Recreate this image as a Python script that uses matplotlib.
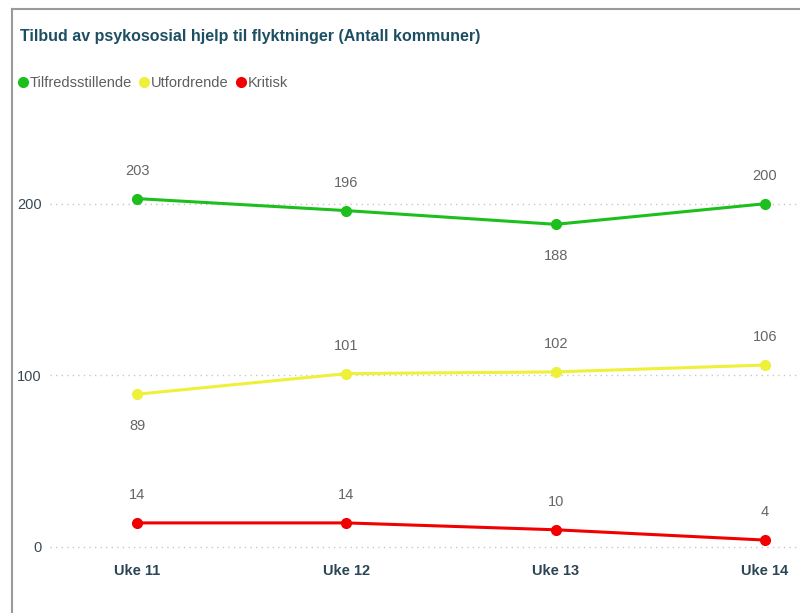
import matplotlib.pyplot as plt
from matplotlib.lines import Line2D

uker = ["Uke 11", "Uke 12", "Uke 13", "Uke 14"]
serier = ["Tilfredsstillende", "Utfordrende", "Kritisk"]
tilfreds = [203, 196, 188, 200]
utfordrende = [89, 101, 102, 106]
kritisk = [14, 14, 10, 4]
farger = ["#1DBF1D", "#EEF03A", "#F20000"]
# hvor datalabelen står: 1 = over punktet, -1 = under
plassering = [[1, 1, -1, 1], [-1, 1, 1, 1], [1, 1, 1, 1]]

plt.rcParams['font.family'] = ['Liberation Sans', 'DejaVu Sans']

fig = plt.figure(figsize=(8, 6.13), dpi=100)
ax = fig.add_axes([0.0625, 0.0865, 0.9375, 0.7015])

x = list(range(len(uker)))
for verdier, farge, plass in zip([tilfreds, utfordrende, kritisk], farger, plassering):
    ax.plot(x, verdier, color=farge, lw=2.2, marker='o', ms=7, solid_capstyle='round')
    for xi, v, p in zip(x, verdier, plass):
        off = 20 if p > 0 else -23
        ax.annotate(str(v), (xi, v), xytext=(0, off), textcoords='offset points',
                    ha='center', va='center', fontsize=10.5, color='#666666')

ax.set_xlim(-0.416, 3.167)
ax.set_ylim(-7.6, 243)
ax.set_yticks([0, 100, 200])
ax.set_xticks(x)
ax.set_xticklabels(uker, fontsize=10.5, color='#2B4556', fontweight='bold')
ax.tick_params(axis='y', length=0, pad=6, labelsize=10.5, labelcolor='#3A4A55')
ax.tick_params(axis='x', length=0, pad=3)
ax.grid(axis='y', color='#C8C8C8', linestyle=(0, (1, 3)), lw=1)
for s in ax.spines.values():
    s.set_visible(False)

fig.text(0.025, 0.941, "Tilbud av psykososial hjelp til flyktninger (Antall kommuner)",
         fontsize=11.5, color='#1D4E63', fontweight='bold', va='center', ha='left')

handles = [Line2D([], [], color=f, marker='o', linestyle='', ms=7) for f in farger]
fig.legend(handles, serier, loc='center left', bbox_to_anchor=(0.003, 0.864), ncol=3,
           frameon=False, handletextpad=0.0, columnspacing=0.3, fontsize=10.5,
           labelcolor='#605E5C', handlelength=1.0)

# ramme rundt visualet
fig.add_artist(Line2D([0.015, 1.0], [0.985, 0.985], color='#9A9A9A', lw=1.5))
fig.add_artist(Line2D([0.015, 0.015], [0.0, 0.985], color='#9A9A9A', lw=1.5))

fig.savefig("out.png", dpi=100)
